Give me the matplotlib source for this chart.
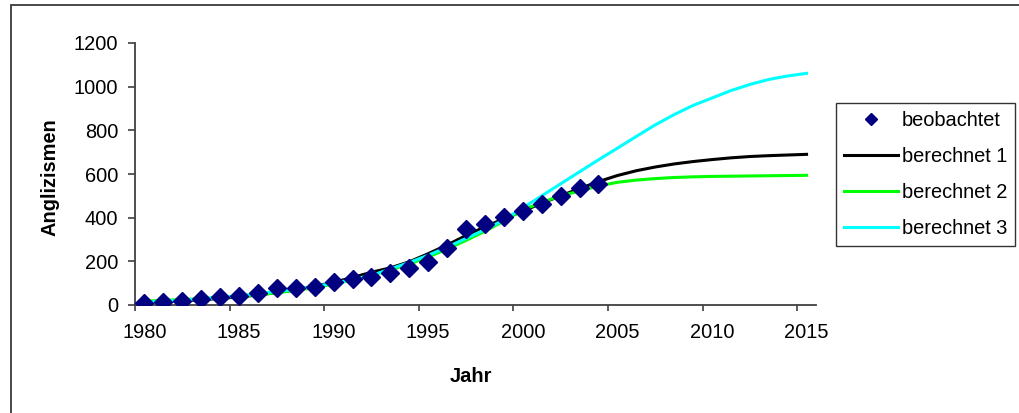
import matplotlib
matplotlib.use("Agg")
import matplotlib.pyplot as plt
from matplotlib.patches import Rectangle

plt.rcParams['font.family'] = ['Liberation Sans', 'DejaVu Sans']

# Observed counts of anglicisms per year
obs_years = list(range(1980, 2005))
observed = [8, 15, 18, 27, 35, 43, 54, 79, 79, 84, 105, 120, 130, 145, 171,
            196, 260, 350, 371, 405, 432, 463, 499, 537, 553]

# Model curves, one value per year 1980-2015
fit_years = list(range(1980, 2016))
calc1 = [12, 15, 19, 24, 30, 37, 46, 57, 70, 86, 104, 126, 150, 170, 198,
         235, 275, 318, 358, 395, 430, 466, 500, 533, 565, 593, 615, 632,
         646, 657, 666, 674, 680, 684, 687, 690]
calc2 = [18, 21, 25, 29, 34, 40, 47, 56, 67, 80, 96, 115, 136, 160, 188,
         220, 256, 296, 338, 385, 435, 470, 500, 522, 545, 562, 572, 579,
         584, 587, 589, 590, 591, 592, 593, 594]
calc3 = [12, 17, 22, 28, 35, 43, 52, 62, 72, 85, 100, 117, 135, 165, 195,
         228, 265, 305, 345, 390, 445, 500, 555, 610, 665, 718, 772, 825,
         872, 914, 948, 982, 1010, 1033, 1049, 1061]

series_labels = ['beobachtet', 'berechnet 1', 'berechnet 2', 'berechnet 3']
y_ticks = [0, 200, 400, 600, 800, 1000, 1200]
x_label_years = [1980, 1985, 1990, 1995, 2000, 2005, 2010, 2015]

W, H = 1020, 413
fig = plt.figure(figsize=(W / 100, H / 100), dpi=100)
fig.patch.set_facecolor('white')

# outer chart-area border
fig.add_artist(Rectangle((11 / W, -0.2), 1.5, 1.2 - 5 / H,
                         transform=fig.transFigure, fill=False,
                         edgecolor='#3a3a3a', linewidth=1.3))

ax = fig.add_axes([135 / W, 108 / H, (816 - 135) / W, (305 - 43) / H])

l1, = ax.plot(fit_years, calc1, color='black', lw=2.2, zorder=2)
l2, = ax.plot(fit_years, calc2, color='#00ff00', lw=2.2, zorder=2)
l3, = ax.plot(fit_years, calc3, color='#00ffff', lw=2.2, zorder=2)
pts, = ax.plot(obs_years, observed, linestyle='none', marker='D',
               markersize=9, color='#000080', zorder=3)

ax.set_xlim(1979.5, 2015.5)
ax.set_ylim(0, 1200)

for s in ['top', 'right']:
    ax.spines[s].set_visible(False)
for s in ['left', 'bottom']:
    ax.spines[s].set_color('#404040')
    ax.spines[s].set_linewidth(1.3)
    ax.spines[s].set_zorder(1)

fs = 14.4
ax.set_yticks(y_ticks)
ax.set_yticklabels([str(v) for v in y_ticks])
ax.tick_params(axis='y', direction='out', length=5, width=1.2,
               color='#404040', pad=7, labelsize=fs)

# tick marks at category boundaries, year labels at category centres
ax.set_xticks([1979.5 + 5 * k for k in range(8)])
ax.set_xticklabels([])
ax.tick_params(axis='x', which='major', direction='out', length=4,
               width=1.2, color='#404040')
ax.set_xticks(x_label_years, minor=True)
ax.set_xticklabels([str(y) for y in x_label_years], minor=True)
ax.tick_params(axis='x', which='minor', length=0, pad=13, labelsize=fs)

fig.text(50 / W, 1 - 177 / H, 'Anglizismen', rotation=90, ha='center',
         va='center', fontsize=fs, fontweight='bold')
fig.text(471 / W, 1 - 376 / H, 'Jahr', ha='center', va='center',
         fontsize=fs, fontweight='bold')

leg = fig.legend([pts, l1, l2, l3], series_labels,
                 loc='upper left', bbox_to_anchor=(836 / W, 1 - 103 / H),
                 fontsize=fs, frameon=True, fancybox=False, shadow=False,
                 handlelength=2.7, handletextpad=0.2, labelspacing=0.85,
                 borderpad=0.4, borderaxespad=0, markerscale=0.7)
leg.get_frame().set_edgecolor('black')
leg.get_frame().set_linewidth(1.0)

fig.savefig('out.png', dpi=100, facecolor='white')
